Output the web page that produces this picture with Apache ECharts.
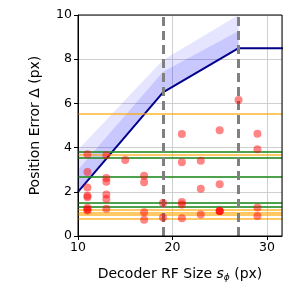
<!DOCTYPE html>
<html><head><meta charset="utf-8">
<script src="https://cdn.jsdelivr.net/npm/echarts@6/dist/echarts.min.js"></script>
<style>html,body{margin:0;padding:0;background:#fff}#c{width:300px;height:300px}</style>
</head><body><div id="c"></div>
<script>
// Mean curve
const rfSizes = [10, 19, 27, 32];
const meanErr = [2.0, 6.5, 8.5, 8.5];
// Uncertainty bands
const bandX = [10, 19, 27];
const bandLow = [2.0, 6.5, 8.5];
const bandInnerHigh = [3.0, 7.43, 9.28];
const bandOuterHigh = [3.9, 7.96, 10.0];
// Thresholds (vertical dashed)
const vLines = [19, 27];
// Horizontal reference levels
const orangeLevels = [5.55, 3.66, 1.18, 1.07, 0.95, 0.8];
const greenLevels = [3.8, 3.52, 2.68, 1.52, 1.33];
// Scatter samples
const scatterX = [11,11,11,11,11,11,11,11, 13,13,13,13,13,13, 15, 17,17,17,17, 19,19, 21,21,21,21,21, 23,23,23, 25,25,25,25,25, 27, 29,29,29,29];
const scatterY = [3.7,2.9,2.19,1.82,1.75,1.28,1.2,1.15, 3.65,2.62,2.46,1.88,1.67,1.23, 3.44, 2.73,2.43,1.07,0.74, 1.49,0.84, 4.62,3.34,1.54,1.42,0.8, 3.41,2.14,0.97, 4.78,2.34,1.13,1.13,1.13, 6.15, 4.63,3.92,1.29,0.9];

const font = 'DejaVu Sans';
const chart = echarts.init(document.getElementById('c'), null, {renderer: 'canvas'});
const zip = (a, b) => a.map((v, i) => [v, b[i]]);

function bandSeries(lo, hi, color) {
  return {
    type: 'custom', silent: true, z: 1,
    data: [0],
    clip: true,
    renderItem: function (params, api) {
      const pts = [];
      for (let i = 0; i < bandX.length; i++) pts.push(api.coord([bandX[i], hi[i]]));
      for (let i = bandX.length - 1; i >= 0; i--) pts.push(api.coord([bandX[i], lo[i]]));
      return {type: 'polygon', shape: {points: pts}, style: {fill: color, stroke: null},
        clipPath: {type: 'rect', shape: {x: params.coordSys.x, y: params.coordSys.y, width: params.coordSys.width, height: params.coordSys.height}}};
    }
  };
}
const series = [];
series.push(bandSeries(bandLow, bandOuterHigh, 'rgba(0,0,255,0.1)'));
series.push(bandSeries(bandLow, bandInnerHigh, 'rgba(0,0,255,0.13)'));
// horizontal lines
series.push({type: 'line', data: [], markLine: {symbol: 'none', silent: true, label: {show: false},
  lineStyle: {color: 'rgba(255,165,0,0.6)', width: 2, type: 'solid'}, data: orangeLevels.map(v => ({yAxis: v}))}, z: 2});
series.push({type: 'line', data: [], markLine: {symbol: 'none', silent: true, label: {show: false},
  lineStyle: {color: 'rgba(34,139,34,0.8)', width: 2, type: 'solid'}, data: greenLevels.map(v => ({yAxis: v}))}, z: 2});
// dashed verticals
series.push({type: 'line', data: [], markLine: {symbol: 'none', silent: true, label: {show: false},
  lineStyle: {color: '#808080', width: 3, type: [9, 5]}, data: vLines.map(v => ({xAxis: v}))}, z: 3});
// mean line
series.push({type: 'line', data: zip(rfSizes, meanErr), symbol: 'none', lineStyle: {color: '#00008b', width: 2}, z: 4});
// scatter
series.push({type: 'scatter', data: zip(scatterX, scatterY), symbolSize: 8, itemStyle: {color: 'rgba(255,0,0,0.6)'}, z: 5});

chart.setOption({
  animation: false,
  grid: {left: 78, right: 18, top: 15, bottom: 64},
  xAxis: {type: 'value', min: 10, max: 31.6, interval: 10,
    name: '{n|Decoder RF Size }{i|s}{sub|ϕ}{n| (px)}', nameLocation: 'middle', nameGap: 30,
    nameTextStyle: {rich: {n: {fontFamily: font, fontSize: 14, color: '#000'}, i: {fontFamily: font, fontSize: 14, fontStyle: 'italic', color: '#000'}, sub: {fontFamily: font, fontSize: 9, fontStyle: 'italic', color: '#000', verticalAlign: 'bottom', padding: [7, 0, 0, 0]}}},
    axisLine: {show: true, onZero: false, lineStyle: {color: '#000', width: 1}},
    axisTick: {show: true, length: 4, lineStyle: {color: '#000'}},
    axisLabel: {fontFamily: font, fontSize: 12.5, color: '#000', margin: 5, showMaxLabel: false},
    splitLine: {show: true, lineStyle: {color: '#cfcfcf', width: 1}}},
  yAxis: {type: 'value', min: 0, max: 10, interval: 2,
    name: 'Position Error Δ (px)', nameLocation: 'middle', nameGap: 36, nameRotate: 90,
    nameTextStyle: {fontFamily: font, fontSize: 14, color: '#000'},
    axisLine: {show: true, onZero: false, lineStyle: {color: '#000', width: 1}},
    axisTick: {show: true, length: 4, lineStyle: {color: '#000'}},
    axisLabel: {fontFamily: font, fontSize: 12.5, color: '#000', margin: 6},
    splitLine: {show: true, lineStyle: {color: '#cfcfcf', width: 1}}},
  series: series
});
chart.setOption({graphic: [{type: 'rect', shape: {x: 78, y: 15, width: 204, height: 221}, style: {fill: 'none', stroke: '#000', lineWidth: 1}, z: 100, silent: true}]});
</script></body></html>
